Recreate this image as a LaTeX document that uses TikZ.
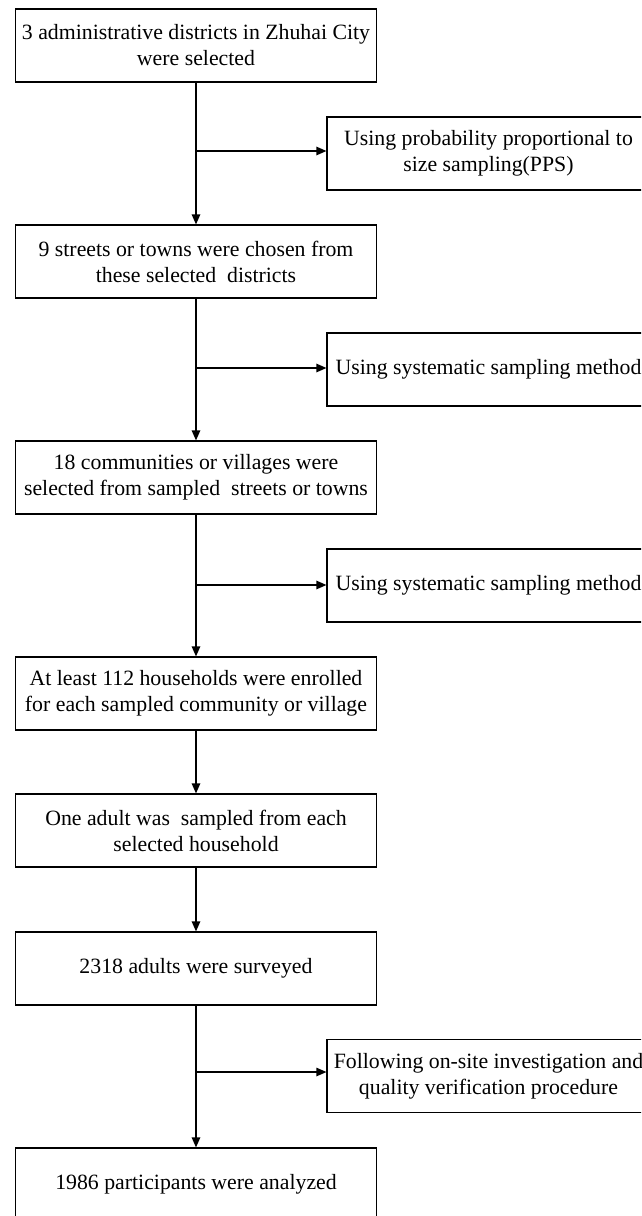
\documentclass[tikz,border=0pt]{standalone}
\usepackage{fontspec}
\setmainfont{Liberation Serif}
\usetikzlibrary{arrows.meta}
\begin{document}
\begin{tikzpicture}[x=1pt,y=-1pt,
  every node/.style={font=\fontsize{21.8}{26}\selectfont},
  mainbox/.style={draw,line width=1.2pt,rectangle,minimum width=361pt,minimum height=73pt,inner sep=0pt,align=center},
  sidebox/.style={draw,line width=1.2pt,rectangle,minimum width=323pt,minimum height=73pt,inner sep=0pt,align=center},
  arr/.style={line width=1.2pt,-{Triangle[length=10pt,width=8.5pt]}}]
\useasboundingbox (0,0) rectangle (641,1216);
\clip (0,0) rectangle (641,1216);
\fill[white] (0,0) rectangle (641,1216);
\node[mainbox] (b1) at (196,45.5) {3 administrative districts in Zhuhai City\\were selected};
\node[mainbox] (b2) at (196,261.5) {9 streets or towns were chosen from\\these selected\ \ districts};
\node[mainbox] (b3) at (196,477.5) {18 communities or villages were\\selected from sampled\ \ streets or towns};
\node[mainbox] (b4) at (196,693.5) {At least 112 households were enrolled\\for each sampled community or village};
\node[mainbox] (b5) at (196,830.5) {One adult was\ \ sampled from each\\selected household};
\node[mainbox] (b6) at (196,968.5) {2318 adults were surveyed};
\node[mainbox] (b7) at (196,1184.5) {1986 participants were analyzed};
\node[sidebox] (r1) at (488.5,153.5) {Using probability proportional to\\size sampling(PPS)};
\node[sidebox] (r2) at (488.5,369.5) {Using systematic sampling method};
\node[sidebox] (r3) at (488.5,585.5) {Using systematic sampling method};
\node[sidebox] (r4) at (488.5,1076) {Following on-site investigation and\\quality verification procedure};
\draw[arr] (b1) -- (b2);
\draw[arr] (b2) -- (b3);
\draw[arr] (b3) -- (b4);
\draw[arr] (b4) -- (b5);
\draw[arr] (b5) -- (b6);
\draw[arr] (b6) -- (b7);
\coordinate (j1) at (196,151);
\coordinate (j2) at (196,368);
\coordinate (j3) at (196,585);
\coordinate (j4) at (196,1072);
\draw[arr] (j1) -- (j1 -| r1.west);
\draw[arr] (j2) -- (j2 -| r2.west);
\draw[arr] (j3) -- (j3 -| r3.west);
\draw[arr] (j4) -- (j4 -| r4.west);
\end{tikzpicture}
\end{document}
